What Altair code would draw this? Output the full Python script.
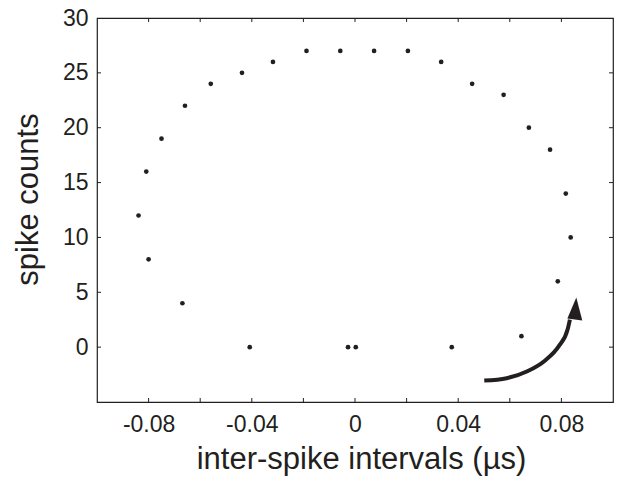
import altair as alt
import pandas as pd

# ---- data ----
isi = [-0.0839, -0.0809, -0.0750, -0.0659, -0.0559, -0.0438, -0.0318, -0.0188,
       -0.0057, 0.0074, 0.0205, 0.0334, 0.0454, 0.0576, 0.0674, 0.0756,
       0.0817, 0.0836, 0.0786, 0.0645, 0.0375, 0.0003, -0.0027, -0.0408,
       -0.0669, -0.0800]
counts = [12, 16, 19, 22, 24, 25, 26, 27,
          27, 27, 27, 26, 24, 23, 20, 18,
          14, 10, 6, 1, 0, 0, 0, 0,
          4, 8]

x_label_values = [-0.08, -0.04, 0, 0.04, 0.08]
x_tick_values = [-0.08, -0.06, -0.04, -0.02, 0, 0.02, 0.04, 0.06, 0.08]
y_label_values = [0, 5, 10, 15, 20, 25, 30]
y_tick_values = [0, 5, 10, 15, 20, 25]

# arrow annotation (data coordinates)
arc_x = [0.0501, 0.0588, 0.0668, 0.0737, 0.0790, 0.0824, 0.0833]
arc_y = [-3.05, -2.83, -2.20, -1.21, 0.09, 1.60, 2.51]
head_x = [0.0852]
head_y = [3.47]

INK = "#231f20"
FONT = "Liberation Sans"
W, H = 516, 384
X_TITLE = "inter-spike intervals (µs)"
Y_TITLE = "spike counts"

xs = alt.Scale(domain=[-0.1, 0.1], nice=False, zero=False)
ys = alt.Scale(domain=[-5, 30], nice=False, zero=False)
x_axis = alt.Axis(values=x_label_values, format="~g",
                  labelExpr="replace(datum.label, '\u2212', '-')")
y_axis = alt.Axis(values=y_label_values)


def X(field):
    return alt.X(field, type="quantitative", scale=xs, title=X_TITLE, axis=x_axis)


def Y(field):
    return alt.Y(field, type="quantitative", scale=ys, title=Y_TITLE, axis=y_axis)


pts = pd.DataFrame({"isi": isi, "count": counts})
xt = pd.DataFrame({"v": x_tick_values})
yt = pd.DataFrame({"v": y_tick_values})
arc = pd.DataFrame({"x": arc_x, "y": arc_y, "o": list(range(len(arc_x)))})
head = pd.DataFrame({"x": head_x, "y": head_y})

points = alt.Chart(pts).mark_circle(size=22, color=INK, opacity=1).encode(
    x=X("isi"), y=Y("count"))

bt = alt.Chart(xt).mark_rule(color=INK, strokeWidth=1).encode(
    x=X("v"), y=alt.value(H), y2=alt.value(H - 4))
tt = alt.Chart(xt).mark_rule(color=INK, strokeWidth=1).encode(
    x=X("v"), y=alt.value(0), y2=alt.value(4))
lt = alt.Chart(yt).mark_rule(color=INK, strokeWidth=1).encode(
    y=Y("v"), x=alt.value(0), x2=alt.value(4))
rt = alt.Chart(yt).mark_rule(color=INK, strokeWidth=1).encode(
    y=Y("v"), x=alt.value(W - 4), x2=alt.value(W))

arc_line = alt.Chart(arc).mark_line(color=INK, strokeWidth=4, interpolate="monotone",
                                    strokeCap="butt").encode(
    x=X("x"), y=Y("y"), order="o:Q")
arrow_head = alt.Chart(head).mark_point(
    shape="M0.13,-1L0.65,1L-0.65,0.83Z", size=529, filled=True,
    color=INK, opacity=1, strokeWidth=0).encode(x=X("x"), y=Y("y"))

chart = alt.layer(points, bt, tt, lt, rt, arc_line, arrow_head).properties(
    width=W, height=H,
    autosize=alt.AutoSizeParams(type="none"),
    padding={"left": 89, "top": 10, "right": 6, "bottom": 75},
    background="white",
).configure_view(
    stroke=INK, strokeWidth=1.2
).configure_axis(
    grid=False, ticks=False, domain=False,
    labelFont=FONT, labelFontSize=23, labelColor=INK,
    titleFont=FONT, titleFontSize=31, titleColor=INK, titleFontWeight="normal",
).configure_axisX(
    labelPadding=11, titlePadding=8, titleX=264,
).configure_axisY(
    labelPadding=9, titlePadding=18, titleY=181,
)

chart.save("out.html", embed_options={"renderer": "svg", "actions": False})
